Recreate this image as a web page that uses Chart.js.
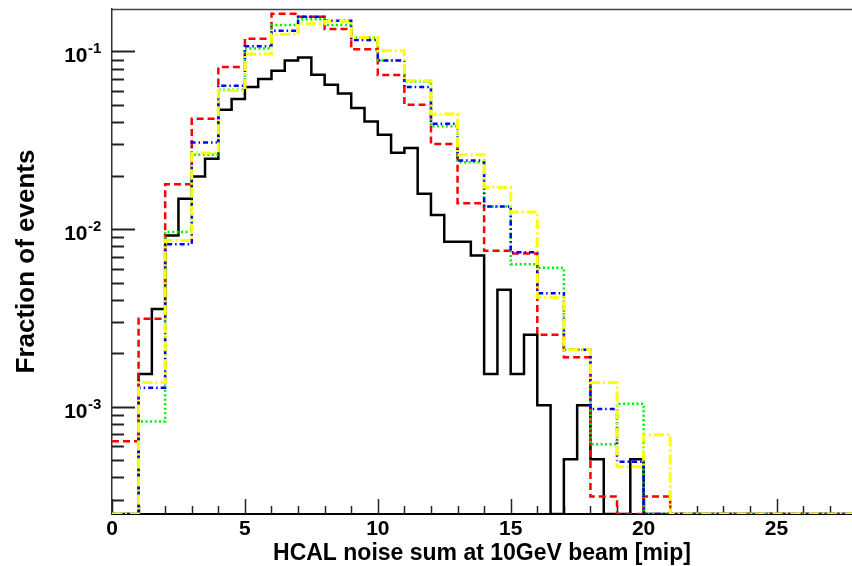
<!DOCTYPE html>
<html>
<head>
<meta charset="utf-8">
<script src="https://cdn.jsdelivr.net/npm/chart.js@4.4.1/dist/chart.umd.min.js"></script>
<style>
html,body{margin:0;padding:0;background:#fff;}
#wrap{width:852px;height:566px;position:relative;}
</style>
</head>
<body>
<div id="wrap"><canvas id="c" width="852" height="566"></canvas></div>
<script>
// ---------- text ----------
const X_TITLE = 'HCAL noise sum at 10GeV beam [mip]';
const Y_TITLE = 'Fraction of events';

// ---------- axis ranges / ticks ----------
const X_MIN = 0, X_MAX = 27.84;
const Y_MIN = 2.49e-4, Y_MAX = 0.1734;
const X_LABEL_STEP = 5;          // labelled ticks 0,5,10,...
const X_MINOR_STEP = 1;          // small ticks every unit
const Y_DECADES = [-1, -2, -3];  // labelled decades 10^-1 .. 10^-3
const HIST_END = 28;             // histogram range end

// ---------- data: black solid histogram, bins of 0.5 starting at 0 ----------
const blackBinWidth = 0.5;
const blackValues = [
  0, 0, 0.00153, 0.00355, 0.0092, 0.0148, 0.0198, 0.0249,
  0.047, 0.054, 0.063, 0.070, 0.078, 0.089, 0.0925, 0.074,
  0.065, 0.058, 0.048, 0.0403, 0.034, 0.0269, 0.0286, 0.0158,
  0.0120, 0.0085, 0.0085, 0.0071, 0.00153, 0.00455, 0.00153, 0.00254,
  0.00102, 0, 0.000507, 0.00102, 0.000507, 0, 0, 0.000507
];

// ---------- data: dashed / dotted histograms, bins of 1 starting at 0 ----------
const colorBinWidth = 1;
const redValues = [
  0.00064, 0.00313, 0.0179, 0.0418, 0.0817, 0.118, 0.163, 0.157,
  0.134, 0.103, 0.0736, 0.0501, 0.0301, 0.014, 0.00755, 0.0073,
  0.00254, 0.0019, 0.000312, 0, 0.000312
];
const greenValues = [
  0, 0.000826, 0.00962, 0.0262, 0.0609, 0.104, 0.141, 0.152,
  0.141, 0.120, 0.089, 0.0678, 0.0379, 0.0238, 0.0134, 0.00635,
  0.00605, 0.00209, 0.000615, 0.00104, 0
];
const blueValues = [
  0, 0.00128, 0.00823, 0.0307, 0.0641, 0.107, 0.131, 0.157,
  0.149, 0.116, 0.089, 0.063, 0.0392, 0.0243, 0.0134, 0.0074,
  0.00436, 0.00209, 0.00097, 0.00049, 0
];
const yellowValues = [
  0, 0.00137, 0.00863, 0.0268, 0.0603, 0.0967, 0.125, 0.143,
  0.148, 0.120, 0.101, 0.0684, 0.0444, 0.0262, 0.0172, 0.0125,
  0.00414, 0.00209, 0.00137, 0.00046, 0.000695
];

// Build step outline (bin edges) from bin values; empty bins sit on the axis floor.
function histPoints(values, width) {
  const pts = [];
  const nBins = Math.round(HIST_END / width);
  for (let i = 0; i < nBins; i++) {
    const v = i < values.length ? values[i] : 0;
    const y = v > Y_MIN ? v : Y_MIN;
    pts.push({x: i * width, y: y});
    pts.push({x: (i + 1) * width, y: y});
  }
  return pts;
}

const FONT = '"Liberation Sans", Arial, Helvetica, sans-serif';

const axisDecor = {
  id: 'axisDecor',
  beforeDatasetsDraw(chart) {
    const {ctx, chartArea: a, scales: {x, y}} = chart;
    ctx.save();
    // top frame line
    ctx.strokeStyle = '#444';
    ctx.lineWidth = 1.5;
    ctx.beginPath();
    ctx.moveTo(a.left, a.top + 0.5);
    ctx.lineTo(a.right, a.top + 0.5);
    ctx.stroke();
    // y ticks (log): major at decades, minor at 2..9
    ctx.strokeStyle = '#222';
    ctx.lineWidth = 2;
    for (let d = -5; d <= 0; d++) {
      for (let m = 1; m <= 9; m++) {
        const v = m * Math.pow(10, d);
        if (v < Y_MIN || v > Y_MAX) continue;
        const py = Math.round(y.getPixelForValue(v)) + 0.5;
        const len = m === 1 ? 23 : 12;
        ctx.beginPath();
        ctx.moveTo(a.left, py);
        ctx.lineTo(a.left + len, py);
        ctx.stroke();
      }
    }
    // x ticks pointing up
    ctx.lineWidth = 1.5;
    for (let v = X_MIN; v <= X_MAX; v += X_MINOR_STEP) {
      const px = Math.round(x.getPixelForValue(v)) + 0.5;
      const len = (v % X_LABEL_STEP === 0) ? 15 : 8;
      ctx.beginPath();
      ctx.moveTo(px, a.bottom);
      ctx.lineTo(px, a.bottom - len);
      ctx.stroke();
    }
    // y labels 10^n
    ctx.fillStyle = '#000';
    for (const d of Y_DECADES) {
      const py = y.getPixelForValue(Math.pow(10, d));
      ctx.font = 'bold 21px ' + FONT;
      ctx.textAlign = 'right';
      ctx.textBaseline = 'middle';
      ctx.fillText('10', 87.5, py + 5);
      ctx.font = 'bold 15px ' + FONT;
      ctx.textAlign = 'left';
      ctx.textBaseline = 'alphabetic';
      ctx.fillText(String(d), 88, py + 1.8);
    }
    ctx.restore();
  }
};

const common = {pointRadius: 0, pointHoverRadius: 0, tension: 0, fill: false,
                borderJoinStyle: 'miter', borderCapStyle: 'butt'};

new Chart(document.getElementById('c'), {
  type: 'line',
  data: {
    datasets: [
      Object.assign({label: 'yellow', data: histPoints(yellowValues, colorBinWidth),
        borderColor: '#ffff00', borderWidth: 3, borderDash: [10, 3, 2, 3]}, common),
      Object.assign({label: 'blue', data: histPoints(blueValues, colorBinWidth),
        borderColor: '#0000ff', borderWidth: 2.5, borderDash: [5, 3, 1.5, 3]}, common),
      Object.assign({label: 'green', data: histPoints(greenValues, colorBinWidth),
        borderColor: '#00ee00', borderWidth: 2.5, borderDash: [2, 2.5]}, common),
      Object.assign({label: 'red', data: histPoints(redValues, colorBinWidth),
        borderColor: '#ff0000', borderWidth: 2.5, borderDash: [7, 4]}, common),
      Object.assign({label: 'black', data: histPoints(blackValues, blackBinWidth),
        borderColor: '#000000', borderWidth: 2.5}, common)
    ]
  },
  options: {
    responsive: false,
    animation: false,
    devicePixelRatio: 1,
    events: [],
    layout: {padding: {top: 9, right: 0, bottom: 0, left: 0}},
    plugins: {legend: {display: false}, tooltip: {enabled: false}, title: {display: false}},
    scales: {
      x: {
        type: 'linear',
        min: X_MIN, max: X_MAX,
        grid: {display: false, drawTicks: false, tickLength: 0},
        border: {display: true, color: '#000', width: 2},
        ticks: {
          stepSize: X_LABEL_STEP, includeBounds: false, autoSkip: false, maxRotation: 0,
          padding: 3, color: '#000',
          font: {family: FONT, size: 21, weight: 'bold'},
          callback: (v) => (v % X_LABEL_STEP === 0 ? String(v) : '')
        },
        title: {display: true, text: X_TITLE, color: '#000',
          font: {family: FONT, size: 23, weight: 'bold', lineHeight: 1},
          padding: {top: 0, bottom: 0.5}},
        afterFit(s) { s.height = 52; }
      },
      y: {
        type: 'logarithmic',
        min: Y_MIN, max: Y_MAX,
        grid: {display: false, drawTicks: false, tickLength: 0},
        border: {display: true, color: '#333', width: 1.5},
        ticks: {display: false},
        title: {display: true, text: Y_TITLE, color: '#000',
          font: {family: FONT, size: 26, weight: 'bold', lineHeight: 1},
          padding: {top: 13.5, bottom: 0}},
        afterFit(s) { s.width = 112; }
      }
    }
  },
  plugins: [axisDecor]
});
</script>
</body>
</html>
